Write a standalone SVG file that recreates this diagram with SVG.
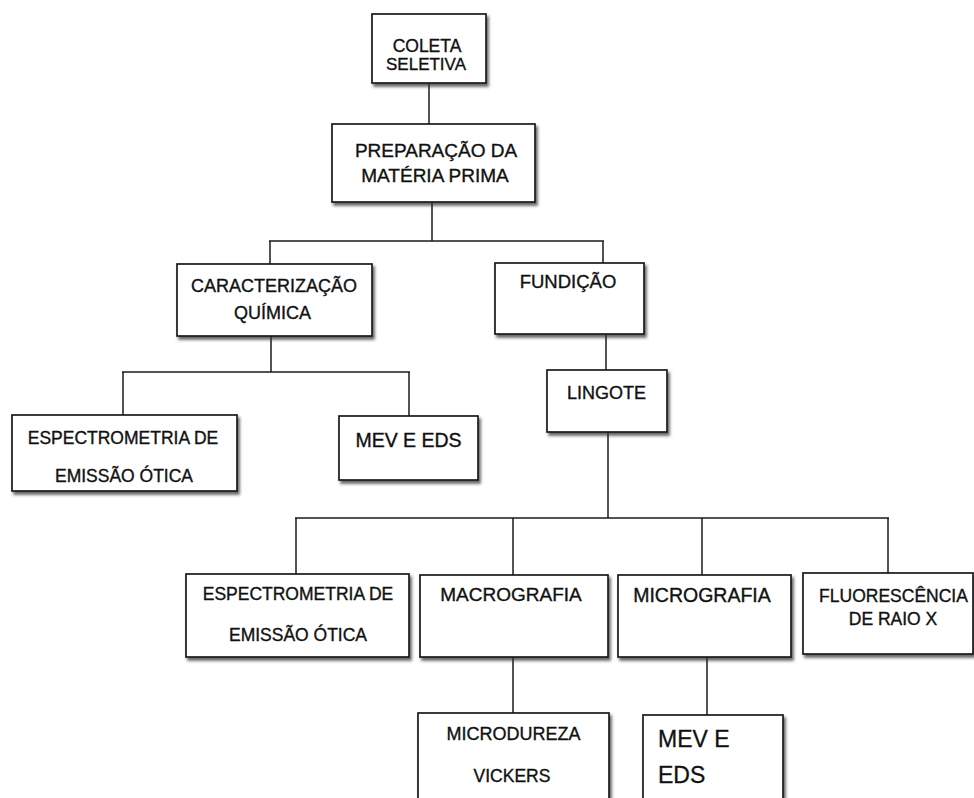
<svg xmlns="http://www.w3.org/2000/svg" width="974" height="798" viewBox="0 0 974 798">
<defs>
<filter id="sh" x="-10%" y="-10%" width="130%" height="140%">
<feDropShadow dx="2" dy="3" stdDeviation="1.6" flood-color="#333" flood-opacity="0.75"/>
</filter>
<style>
.box{fill:#fff;stroke:#1a1a1a;stroke-width:1.7;filter:url(#sh)}
.t{font-family:"Liberation Sans",Arial,sans-serif;fill:#111;stroke:#111;stroke-width:0.35;text-anchor:middle}
.l{font-family:"Liberation Sans",Arial,sans-serif;fill:#111;stroke:#111;stroke-width:0.3;text-anchor:start}
#connectors line{stroke:#1a1a1a;stroke-width:1.5}
</style>
</defs>
<rect width="974" height="798" fill="#fff"/>
<g id="connectors">
<line x1="429" y1="83" x2="429" y2="124"/>
<line x1="432" y1="202" x2="432" y2="241"/>
<line x1="269" y1="241" x2="604" y2="241"/>
<line x1="270" y1="241" x2="270" y2="264"/>
<line x1="603" y1="241" x2="603" y2="263"/>
<line x1="271" y1="336" x2="271" y2="372"/>
<line x1="122" y1="372" x2="410" y2="372"/>
<line x1="123" y1="372" x2="123" y2="415"/>
<line x1="409" y1="372" x2="409" y2="416"/>
<line x1="606" y1="334" x2="606" y2="370"/>
<line x1="608" y1="432" x2="608" y2="518"/>
<line x1="295" y1="518" x2="889" y2="518"/>
<line x1="296" y1="518" x2="296" y2="574"/>
<line x1="513" y1="518" x2="513" y2="575"/>
<line x1="702" y1="518" x2="702" y2="575"/>
<line x1="888" y1="518" x2="888" y2="573"/>
<line x1="513" y1="657" x2="513" y2="713"/>
<line x1="707" y1="657" x2="707" y2="715"/>
</g>
<g id="coleta">
<rect class="box" x="372" y="14" width="114" height="69"/>
<text class="t" x="427" y="52" font-size="17.5">COLETA</text>
<text class="t" x="426" y="70" font-size="17">SELETIVA</text>
</g>
<g id="preparacao">
<rect class="box" x="332" y="124" width="203" height="78"/>
<text class="t" x="436" y="157" font-size="19">PREPARAÇÃO DA</text>
<text class="t" x="435" y="182" font-size="19">MATÉRIA PRIMA</text>
</g>
<g id="caracterizacao">
<rect class="box" x="177" y="264" width="195" height="72"/>
<text class="t" x="274" y="292" font-size="18">CARACTERIZAÇÃO</text>
<text class="t" x="272.5" y="319" font-size="18">QUÍMICA</text>
</g>
<g id="fundicao">
<rect class="box" x="495" y="263" width="149" height="71"/>
<text class="t" x="568" y="288" font-size="18.5">FUNDIÇÃO</text>
</g>
<g id="lingote">
<rect class="box" x="547" y="370" width="120" height="62"/>
<text class="t" x="606.5" y="399" font-size="18">LINGOTE</text>
</g>
<g id="espectrometria1">
<rect class="box" x="12" y="415" width="225" height="76"/>
<text class="t" x="123" y="444" font-size="17.5">ESPECTROMETRIA DE</text>
<text class="t" x="124" y="482" font-size="17.5">EMISSÃO ÓTICA</text>
</g>
<g id="mev1">
<rect class="box" x="339" y="416" width="139" height="64"/>
<text class="t" x="408.5" y="447" font-size="19.5">MEV E EDS</text>
</g>
<g id="espectrometria2">
<rect class="box" x="186" y="574" width="223" height="83"/>
<text class="t" x="298" y="600" font-size="17.5">ESPECTROMETRIA DE</text>
<text class="t" x="298" y="641" font-size="17.5">EMISSÃO ÓTICA</text>
</g>
<g id="macrografia">
<rect class="box" x="420" y="575" width="188" height="82"/>
<text class="t" x="511" y="601" font-size="19">MACROGRAFIA</text>
</g>
<g id="micrografia">
<rect class="box" x="618" y="575" width="173" height="82"/>
<text class="t" x="702" y="602" font-size="19.5">MICROGRAFIA</text>
</g>
<g id="fluorescencia">
<rect class="box" x="803" y="573" width="170" height="81"/>
<text class="t" x="893.5" y="602" font-size="17.5">FLUORESCÊNCIA</text>
<text class="t" x="893" y="625" font-size="17.5">DE RAIO X</text>
</g>
<g id="microdureza">
<rect class="box" x="418" y="713" width="191" height="100"/>
<text class="t" x="513.5" y="740" font-size="18">MICRODUREZA</text>
<text class="t" x="512" y="782" font-size="17.5">VICKERS</text>
</g>
<g id="mev2">
<rect class="box" x="643" y="715" width="140" height="100"/>
<text class="l" x="658" y="747" font-size="23">MEV E</text>
<text class="l" x="658" y="783" font-size="23">EDS</text>
</g>
</svg>
